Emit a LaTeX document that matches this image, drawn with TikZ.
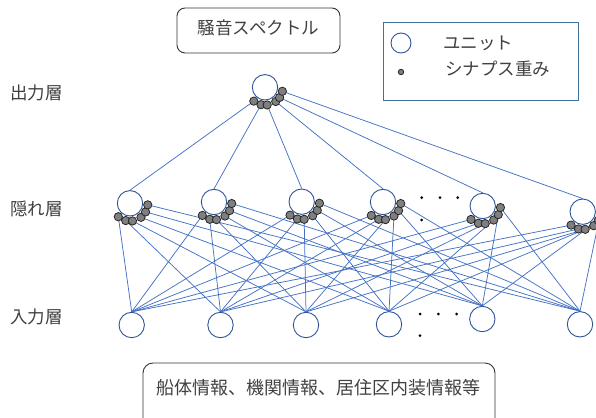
\documentclass[tikz,border=0pt]{standalone}
\usepackage{fontspec}
\setmainfont{Noto Sans CJK JP}
\usetikzlibrary{calc}
\definecolor{linkblue}{HTML}{4472C4}
\definecolor{unitblue}{HTML}{2F5597}
\definecolor{txt}{HTML}{404040}
\definecolor{dotgray}{HTML}{7F7F7F}
\definecolor{legendedge}{HTML}{41719C}
\pgfdeclarelayer{bg}
\pgfsetlayers{bg,main}
\begin{document}
\begin{tikzpicture}[x=1pt,y=-1pt,
  unit/.style={circle,draw=unitblue,line width=0.9pt,fill=white,minimum size=25.4pt,inner sep=0pt},
  syn/.style={circle,draw=black!85,fill=dotgray,line width=0.8pt,minimum size=8.3pt,inner sep=0pt},
  link/.style={draw=linkblue,line width=0.75pt},
  lbl/.style={text=txt,font=\fontsize{17.5}{20}\selectfont,text height=0.8em,text depth=0.05em,inner sep=0pt},
  smalldot/.style={circle,fill=black,inner sep=0pt,minimum size=3pt},
  box/.style={draw=black!80,line width=0.9pt}
  ]
\useasboundingbox (0,0) rectangle (596,417);

% title box
\node[box,lbl,rounded corners=8pt,minimum width=163pt,minimum height=45pt] (title) at (258.5,30.5) {騒音スペクトル};

% legend
\draw[draw=legendedge,line width=0.9pt] (383,22) rectangle (578,100);
\node[unit,minimum size=20pt] (lu) at (401,43) {};
\node[syn,minimum size=5.5pt] (ls) at (401,72) {};
\node[lbl,anchor=west] (lut) at (443,46) {ユニット};
\node[lbl,anchor=west] (lst) at (445,72) {シナプス重み};

% layer labels
\node[lbl,anchor=west] (lo) at (10,96) {出力層};
\node[lbl,anchor=west] (lh) at (10,211.5) {隠れ層};
\node[lbl,anchor=west] (li) at (10,320) {入力層};

% output unit
\node[unit] (o) at (265,87.3) {};
\foreach \a [count=\k] in {129,103,83,53,35,13}
  \coordinate (o-\k) at ($(o)+({17.8*cos(\a)},{17.8*sin(\a)})$);

% hidden units
\foreach \x/\y [count=\i] in {130/203.3,214/202,301.7/201.7,383/202,482.7/206,582.7/211.7}{
  \node[unit] (h\i) at (\x,\y) {};
  \foreach \a [count=\k] in {131,104,82,52,29,5}
    \coordinate (h\i-\k) at ($(h\i)+({17.8*cos(\a)},{17.8*sin(\a)})$);
}

% input units
\foreach \x/\y [count=\j] in {131.7/325,220.5/325,306/325,389/324.3,482.3/319,580/324.3}
  \node[unit] (i\j) at (\x,\y) {};

% connectors
\begin{pgfonlayer}{bg}
\foreach \k in {1,...,6}
  \draw[link] (o-\k) -- (h\k.north);
\foreach \i in {1,...,6}
  \foreach \j in {1,...,6}
    \draw[link] (i\j.north) -- (h\i-\j);
\end{pgfonlayer}

% synapse dots
\foreach \k in {1,...,6}
  \node[syn] (so\k) at (o-\k) {};
\foreach \i in {1,...,6}
  \foreach \k in {1,...,6}
    \node[syn] (s\i\k) at (h\i-\k) {};

% ellipsis dots
\node[smalldot] (hd1) at (421.7,197.7) {};
\node[smalldot] (hd2) at (440,197.7) {};
\node[smalldot] (hd3) at (457.7,197.7) {};
\node[smalldot] (hd4) at (421.7,220) {};
\node[smalldot] (id1) at (420,314) {};
\node[smalldot] (id2) at (438.3,314) {};
\node[smalldot] (id3) at (456.7,314) {};
\node[smalldot] (id4) at (420,335.7) {};

% input description box
\draw[box,rounded corners=10pt] (143,440) -- (143,363) -- (495,363) -- (495,440);
\node[lbl,font=\fontsize{18}{20}\selectfont] (desc) at (318,391) {船体情報、機関情報、居住区内装情報等};
\end{tikzpicture}
\end{document}
